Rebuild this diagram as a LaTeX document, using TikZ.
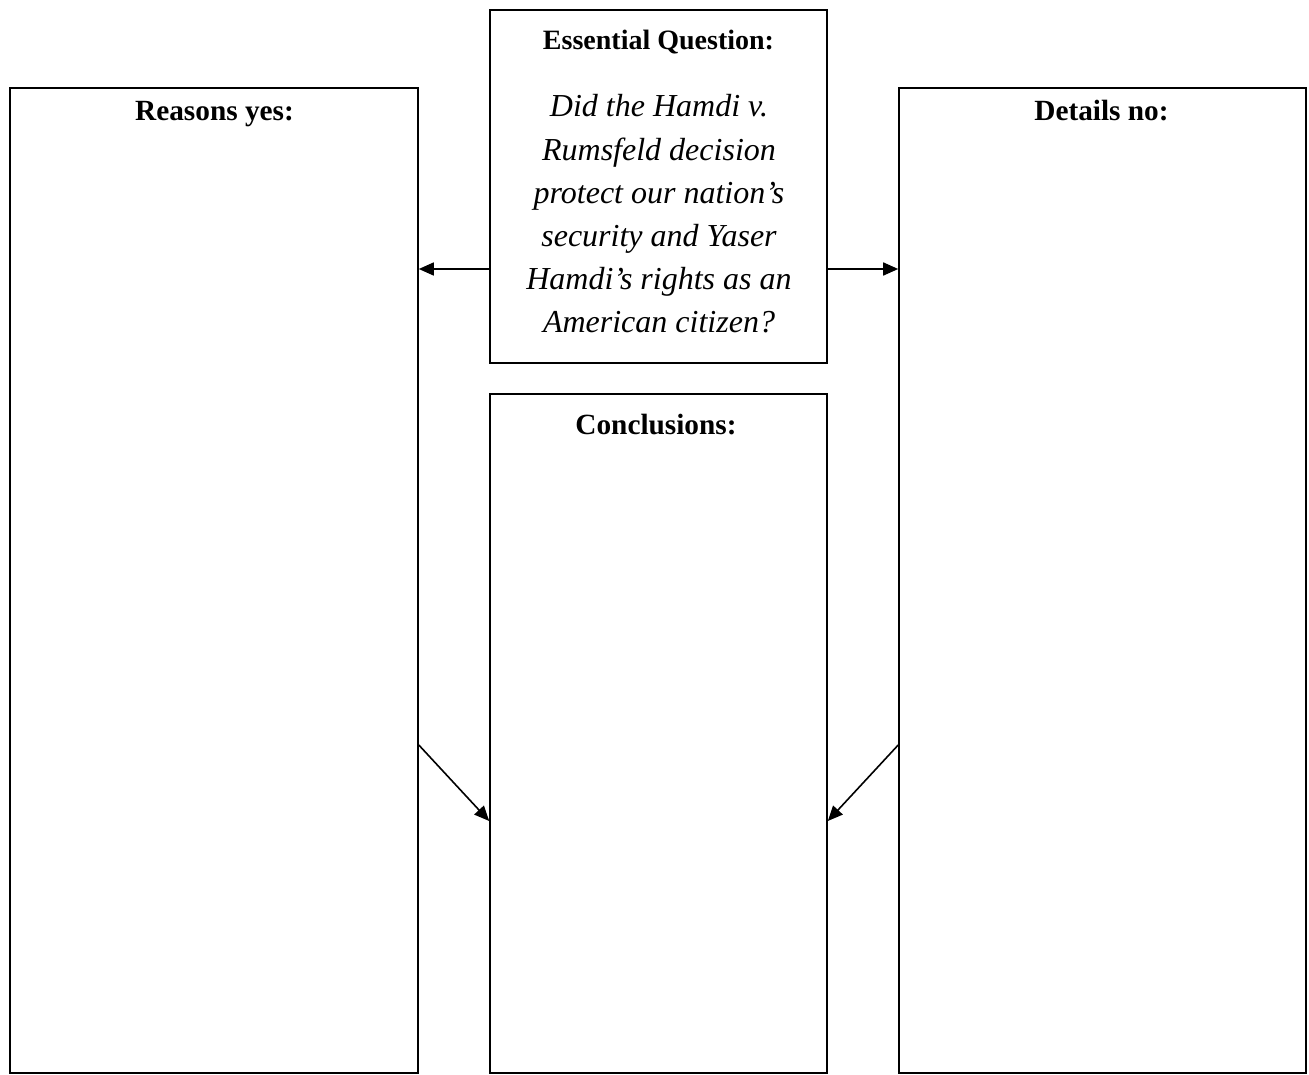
\documentclass[tikz,border=0pt]{standalone}
\usepackage{fontspec}
\setmainfont{Liberation Serif}
\usetikzlibrary{arrows.meta}
\begin{document}
\begin{tikzpicture}[x=1pt,y=-1pt,
  box/.style={draw=black,line width=1.6pt,rectangle,inner sep=0pt},
  head/.style={font=\fontsize{29.3}{35}\selectfont\bfseries,inner sep=0pt,anchor=base},
  arr/.style={line width=1.6pt,-{Triangle[length=15pt,width=13pt]}}]
\useasboundingbox (0,0) rectangle (1309,1075);
\node[box,minimum width=408pt,minimum height=985pt] (yes) at (214,580.5) {};
\node[box,minimum width=407pt,minimum height=985pt] (no) at (1102.5,580.5) {};
\node[box,minimum width=337pt,minimum height=353pt] (eq) at (658.5,186.5) {};
\node[box,minimum width=337pt,minimum height=679pt] (concl) at (658.5,733.5) {};
\node[head] (yest) at (214.5,121) {Reasons yes:};
\node[head] (not) at (1101.5,121) {Details no:};
\node[head,font=\fontsize{28}{34}\selectfont\bfseries] (eqt) at (658.5,50) {Essential Question:};
\node[head] (conclt) at (656,434) {Conclusions:};
\node[font=\fontsize{32}{43.2}\selectfont\itshape,align=center,inner sep=0pt] (eqq) at (659,214)
  {Did the Hamdi v.\\Rumsfeld decision\\protect our nation’s\\security and Yaser\\Hamdi’s rights as an\\American citizen?};
\draw[arr] (eq.west |- 0,269) -- (yes.east |- 0,269);
\draw[arr] (eq.east |- 0,269) -- (no.west |- 0,269);
\draw[arr] (yes.east |- 0,745) -- (concl.west |- 0,821);
\draw[arr] (no.west |- 0,745) -- (concl.east |- 0,821);
\end{tikzpicture}
\end{document}
